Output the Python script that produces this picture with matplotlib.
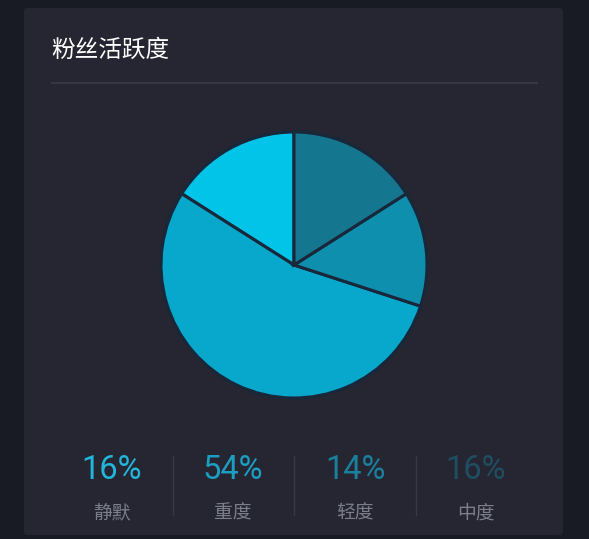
import matplotlib
matplotlib.use("Agg")
import matplotlib.pyplot as plt
from matplotlib.patches import FancyBboxPatch
from matplotlib.lines import Line2D

plt.rcParams['font.family'] = ['Noto Sans CJK SC', 'DejaVu Sans']

title = "粉丝活跃度"
categories = ["静默", "重度", "轻度", "中度"]
values = [16, 54, 14, 16]
pct_labels = ["16%", "54%", "14%", "16%"]
slice_colors = ["#02c3e8", "#08a8cd", "#0f8fae", "#14778f"]
pct_colors = ["#22b6da", "#1b9ec2", "#1a809e", "#1f4d61"]

W, H = 589, 539
fig = plt.figure(figsize=(W / 100, H / 100), dpi=100)
fig.patch.set_facecolor("#181a24")

bg = fig.add_axes([0, 0, 1, 1])
bg.set_xlim(0, W)
bg.set_ylim(H, 0)
bg.axis("off")
bg.add_patch(FancyBboxPatch((24, 8), 539, 527, boxstyle="round,pad=0,rounding_size=4",
                            facecolor="#252632", edgecolor="none"))
bg.text(51, 50, title, color="white", fontsize=17, va="center", ha="left")
bg.add_line(Line2D([52, 537], [82.5, 82.5], color="#363743", lw=1.5))

# legend items
centers = [112, 233, 355, 476]
for cx, pl, cat, col in zip(centers, pct_labels, categories, pct_colors):
    bg.text(cx, 470, pl, color=col, fontsize=23.5, ha="center", va="center",
            family=["Roboto", "DejaVu Sans"])
    bg.text(cx, 513, cat, color="#7c7f8a", fontsize=13.5, ha="center", va="center")
for x in [172.5, 294, 415.5]:
    bg.add_line(Line2D([x, x], [456, 515], color="#383945", lw=1))

# pie
r = 133
cx, cy = 294, 265
ax = fig.add_axes([(cx - r - 2) / W, 1 - (cy + r + 2) / H, (2 * r + 4) / W, (2 * r + 4) / H])
ax.pie(values, colors=slice_colors, startangle=90, counterclock=True,
       wedgeprops=dict(edgecolor="#18273a", linewidth=2.2), radius=1)
ax.set_xlim(-1.015, 1.015)
ax.set_ylim(-1.015, 1.015)
ax.set_aspect("equal")
ax.axis("off")

fig.savefig("out.png", dpi=100, facecolor=fig.get_facecolor())
